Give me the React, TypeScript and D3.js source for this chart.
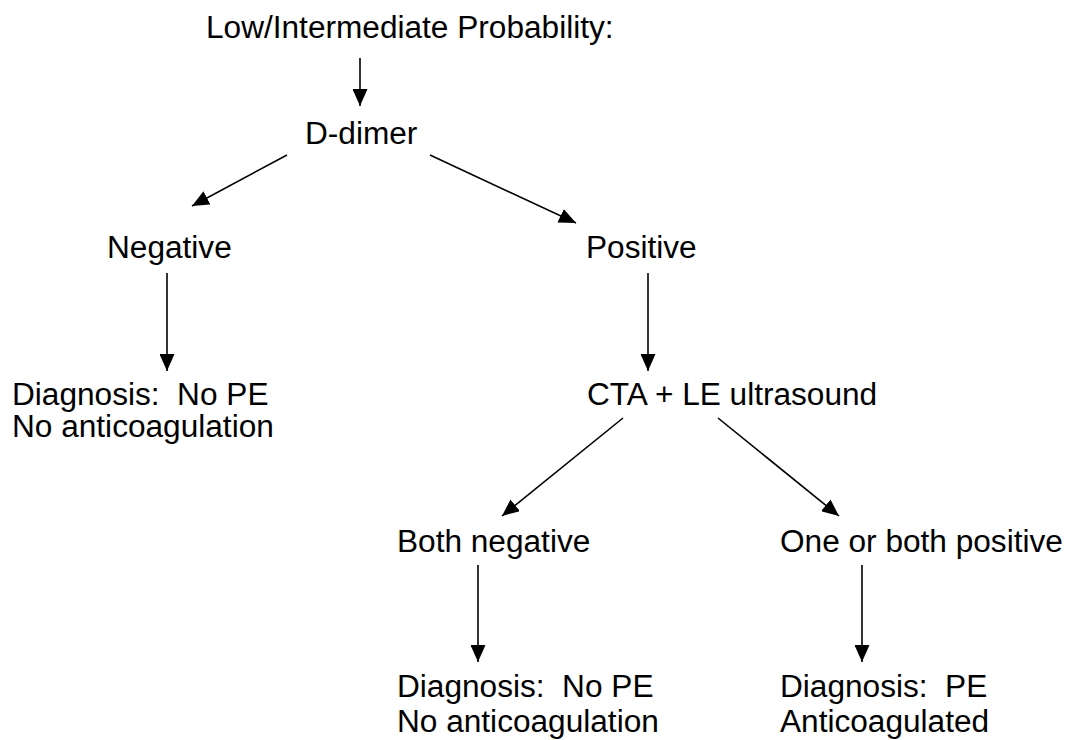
import React, { useEffect, useRef } from "react";
import * as d3 from "d3";

// node ids and their text lines
const nodeIds = ["start", "ddimer", "neg", "pos", "noPe1", "cta", "bothNeg", "onePos", "noPe2", "pe"];
const nodeLines: string[][] = [
  ["Low/Intermediate Probability:"],
  ["D-dimer"],
  ["Negative"],
  ["Positive"],
  ["Diagnosis:  No PE", "No anticoagulation"],
  ["CTA + LE ultrasound"],
  ["Both negative"],
  ["One or both positive"],
  ["Diagnosis:  No PE", "No anticoagulation"],
  ["Diagnosis:  PE", "Anticoagulated"],
];
// edges: [from, to]
const edgeList: [string, string][] = [
  ["start", "ddimer"],
  ["ddimer", "neg"],
  ["ddimer", "pos"],
  ["neg", "noPe1"],
  ["pos", "cta"],
  ["cta", "bothNeg"],
  ["cta", "onePos"],
  ["bothNeg", "noPe2"],
  ["onePos", "pe"],
];

// layout (left x, first baseline, line gap)
const layout: Record<string, { x: number; y: number; gap: number }> = {
  start: { x: 206, y: 38, gap: 0 },
  ddimer: { x: 305, y: 144, gap: 0 },
  neg: { x: 107, y: 258, gap: 0 },
  pos: { x: 586, y: 258, gap: 0 },
  noPe1: { x: 12, y: 405, gap: 32 },
  cta: { x: 587, y: 405, gap: 0 },
  bothNeg: { x: 397, y: 552, gap: 0 },
  onePos: { x: 780, y: 552, gap: 0 },
  noPe2: { x: 397, y: 697, gap: 35 },
  pe: { x: 780, y: 697, gap: 35 },
};
// arrow anchor points [x1, y1, x2, y2]
const arrowPts: Record<string, [number, number, number, number]> = {
  "start-ddimer": [360, 58, 360, 106],
  "ddimer-neg": [287, 155, 192, 206],
  "ddimer-pos": [430, 155, 576, 223],
  "neg-noPe1": [167, 273, 167, 371],
  "pos-cta": [648, 273, 648, 371],
  "cta-bothNeg": [623, 418, 502, 516],
  "cta-onePos": [718, 418, 839, 516],
  "bothNeg-noPe2": [478, 565, 478, 662],
  "onePos-pe": [862, 565, 862, 662],
};

export default function App() {
  const ref = useRef<SVGSVGElement>(null);

  useEffect(() => {
    const svg = d3.select(ref.current);
    svg.selectAll("*").remove();

    svg.append("defs").append("marker")
      .attr("id", "head")
      .attr("markerUnits", "userSpaceOnUse")
      .attr("viewBox", "0 0 17 15")
      .attr("refX", 17).attr("refY", 7.5)
      .attr("markerWidth", 17).attr("markerHeight", 15)
      .attr("orient", "auto")
      .append("path").attr("d", "M0,0 L17,7.5 L0,15 Z").attr("fill", "#000");

    svg.append("g").selectAll("line")
      .data(edgeList)
      .join("line")
      .attr("x1", d => arrowPts[d.join("-")][0])
      .attr("y1", d => arrowPts[d.join("-")][1])
      .attr("x2", d => arrowPts[d.join("-")][2])
      .attr("y2", d => arrowPts[d.join("-")][3])
      .attr("stroke", "#000").attr("stroke-width", 1.6)
      .attr("marker-end", "url(#head)");

    const nodes = nodeIds.map((id, i) => ({ id, lines: nodeLines[i] }));
    // the source text is a little wider than Liberation Sans
    const g = svg.append("g").selectAll("text")
      .data(nodes)
      .join("text")
      .attr("transform", d => `translate(${layout[d.id].x},${layout[d.id].y}) scale(1.02,1)`)
      .attr("font-family", "'Liberation Sans', Arial, sans-serif")
      .attr("font-size", 31)
      .attr("fill", "#000")
      .style("white-space", "pre");
    g.selectAll("tspan")
      .data(d => d.lines.map((t, j) => ({ t, j, id: d.id })))
      .join("tspan")
      .attr("x", 0)
      .attr("y", d => d.j * layout[d.id].gap)
      .text(d => d.t);
  }, []);

  return (
    <svg ref={ref} width={1073} height={740}
      style={{ position: "absolute", left: 0, top: 0, background: "#fff" }} />
  );
}
